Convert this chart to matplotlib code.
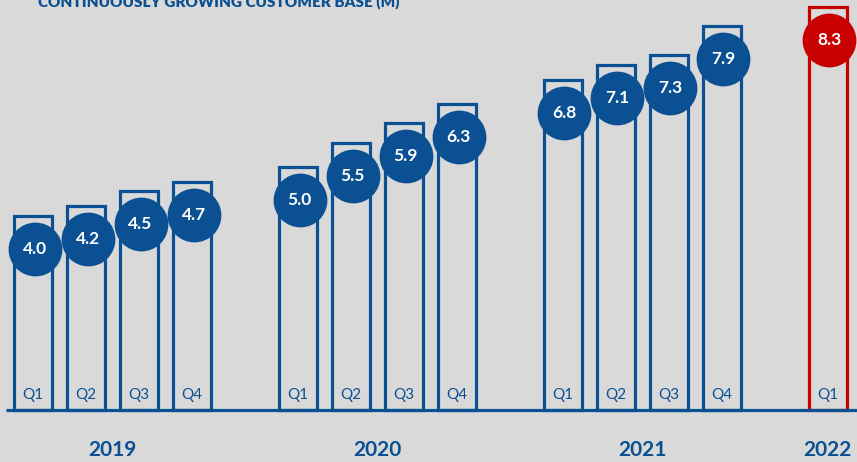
import matplotlib.pyplot as plt
from matplotlib.patches import Rectangle

plt.rcParams['font.family'] = ['Lato', 'DejaVu Sans']

# data
years = ['2019', '2020', '2021', '2022']
quarters = ['Q1', 'Q2', 'Q3', 'Q4']
values_2019 = [4.0, 4.2, 4.5, 4.7]
values_2020 = [5.0, 5.5, 5.9, 6.3]
values_2021 = [6.8, 7.1, 7.3, 7.9]
values_2022 = [8.3]

BLUE = '#0A5092'
RED = '#C80000'
BG = '#D9D9D9'

fig = plt.figure(figsize=(8.57, 4.62), dpi=100, facecolor=BG)
ax = fig.add_axes([0, 0, 1, 1])
ax.set_facecolor(BG)
ax.set_xlim(-0.623, 15.55)
ax.set_ylim(-1.07, 8.436)
ax.axis('off')

groups = [values_2019, values_2020, values_2021, values_2022]
width = 0.71
for g, vals in enumerate(groups):
    color = RED if g == 3 else BLUE
    positions = [g * 5 + i for i in range(len(vals))]
    for x, v, q in zip(positions, vals, quarters):
        ax.add_patch(Rectangle((x - width / 2, 0), width, v, fill=False,
                               edgecolor=color, linewidth=2.3, zorder=2))
        ax.scatter([x + 0.03], [v - 0.68], s=1500, color=color, zorder=3,
                   linewidths=0)
        ax.text(x + 0.03, v - 0.68, f'{v:.1f}', color='white', fontsize=12.5,
                fontweight='bold', ha='center', va='center', zorder=4)
        ax.text(x, 0.31, q, color=BLUE, fontsize=11, ha='center', va='center')
    ax.text(sum(positions) / len(positions), -0.82, years[g], color=BLUE,
            fontsize=15, fontweight='bold', ha='center', va='center')

ax.plot([-0.51, 15.55], [0, 0], color=BLUE, linewidth=2.3, zorder=5,
        solid_capstyle='butt')

# title sits mostly above the visible area, as in the original crop
fig.text(38 / 857, 1 - 6 / 462, 'CONTINUOUSLY GROWING CUSTOMER BASE (M)',
         color=BLUE, fontsize=11, fontweight='heavy', ha='left', va='baseline')

fig.savefig('out.png', dpi=100, facecolor=BG)
